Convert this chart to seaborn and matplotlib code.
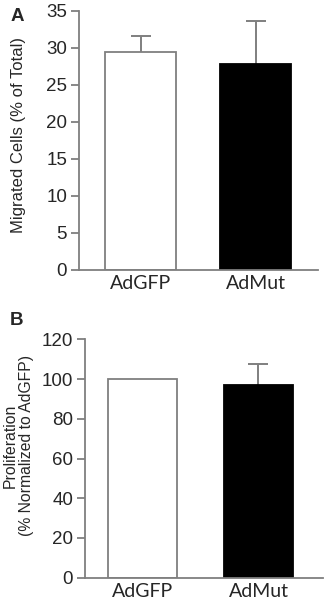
import numpy as np
import pandas as pd
import matplotlib
matplotlib.use("Agg")
import matplotlib.pyplot as plt
import seaborn as sns

# data
groups = ["AdGFP", "AdMut"]
migrated_mean = [29.4, 27.9]
migrated_err = [2.2, 5.7]
prolif_mean = [100.0, 97.0]
prolif_err = [0.0, 10.5]

bar_colors = ["white", "black"]
edge_colors = ["#7f7f7f", "black"]
axis_gray = "#7f7f7f"

sns.set_style("white")
plt.rcParams["font.family"] = ["Liberation Sans", "DejaVu Sans"]


def draw_panel(ax, means, errs, ylim, yticks, ylabel, xlim, width, label_xy, label_size):
    df = pd.DataFrame({"group": groups, "value": means})
    sns.barplot(data=df, x="group", y="value", hue="group", palette=bar_colors,
                legend=False, width=width, ax=ax, errorbar=None, zorder=2)
    for p, ec in zip(ax.patches, edge_colors):
        p.set_edgecolor(ec)
        p.set_linewidth(1.3)
    # upward-only error bars (line + top cap)
    for i, (m, e) in enumerate(zip(means, errs)):
        if e > 0:
            ax.vlines(i, m, m + e, color=axis_gray, lw=1.4, zorder=1)
            ax.plot([i], [m + e], marker="_", ms=15, mew=1.4, color=axis_gray,
                    zorder=1, clip_on=False)
    ax.set_ylim(*ylim)
    ax.set_xlim(*xlim)
    ax.set_yticks(yticks)
    ax.set_xlabel("")
    ax.set_ylabel(ylabel, fontsize=label_size, linespacing=1.1)
    ax.yaxis.set_label_coords(*label_xy)
    for s in ["top", "right"]:
        ax.spines[s].set_visible(False)
    for s in ["left", "bottom"]:
        ax.spines[s].set_color(axis_gray)
        ax.spines[s].set_linewidth(1.3)
    ax.tick_params(axis="y", length=6, width=1.3, color=axis_gray, labelsize=13.5, pad=2.5, left=True)
    ax.tick_params(axis="x", length=0, labelsize=14, pad=3.5)
    for lab in ax.get_xticklabels():
        lab.set_family(["Lato", "DejaVu Sans"])


fig = plt.figure(figsize=(3.25, 6.04), dpi=100)

# panel A
ax1 = fig.add_axes([0.243, 0.553, 0.7354, 0.4288])
draw_panel(ax1, migrated_mean, migrated_err, (0, 35), np.arange(0, 36, 5),
           "Migrated Cells (% of Total)", (-0.535, 1.543), 0.617,
           (-0.222, 0.52), 12)

# panel B
ax2 = fig.add_axes([0.2615, 0.0435, 0.7323, 0.3947])
draw_panel(ax2, prolif_mean, prolif_err, (0, 120), np.arange(0, 121, 20),
           "Proliferation\n(% Normalized to AdGFP)", (-0.496, 1.556), 0.595,
           (-0.213, 0.555), 11.3)

fig.text(0.031, 0.9735, "A", fontsize=13.5, fontweight="bold", va="center")
fig.text(0.031, 0.470, "B", fontsize=13.5, fontweight="bold", va="center")

fig.savefig("out.png", dpi=100)
